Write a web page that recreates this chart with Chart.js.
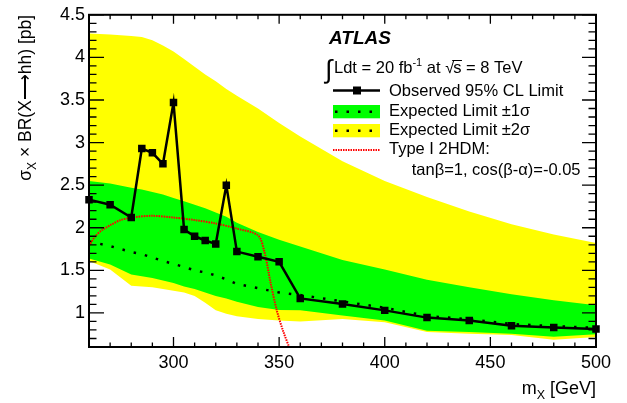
<!DOCTYPE html>
<html>
<head>
<meta charset="utf-8">
<script src="https://cdn.jsdelivr.net/npm/chart.js@4"></script>
<style>
  html, body { margin: 0; padding: 0; background: #fff; }
  #wrap { width: 627px; height: 403px; position: relative; }
</style>
</head>
<body>
<div id="wrap"><canvas id="c"></canvas></div>
<script>
// ------------------------------------------------------------
// Data read off the ATLAS X -> hh limit plot
// ------------------------------------------------------------

const masses    = [260, 270, 280, 285, 290, 295, 300, 305, 310, 315, 320, 325, 330, 340, 350, 360, 380, 400, 420, 440, 460, 480, 500];
const observed  = [2.33, 2.27, 2.12, 2.93, 2.88, 2.75, 3.47, 1.98, 1.90, 1.85, 1.81, 2.50, 1.72, 1.66, 1.60, 1.17, 1.105, 1.03, 0.945, 0.91, 0.85, 0.83, 0.81];
const expected  = [1.84, 1.785, 1.715, 1.69, 1.65, 1.61, 1.575, 1.54, 1.50, 1.475, 1.44, 1.395, 1.34, 1.29, 1.24, 1.21, 1.135, 1.06, 0.965, 0.925, 0.87, 0.845, 0.825];
const sigma1Up  = [2.55, 2.52, 2.47, 2.45, 2.42, 2.39, 2.35, 2.31, 2.27, 2.23, 2.18, 2.13, 2.06, 1.95, 1.86, 1.78, 1.62, 1.51, 1.39, 1.30, 1.22, 1.15, 1.09];
const sigma1Dn  = [1.64, 1.57, 1.45, 1.43, 1.41, 1.38, 1.35, 1.31, 1.28, 1.24, 1.20, 1.17, 1.13, 1.07, 1.035, 1.03, 0.97, 0.91, 0.79, 0.775, 0.755, 0.72, 0.75];
const sigma2Up  = [4.28, 4.27, 4.25, 4.24, 4.20, 4.14, 4.07, 3.98, 3.89, 3.80, 3.72, 3.63, 3.55, 3.40, 3.23, 3.07, 2.78, 2.55, 2.36, 2.19, 2.04, 1.92, 1.82];
const sigma2Dn  = [1.61, 1.51, 1.32, 1.31, 1.30, 1.28, 1.26, 1.24, 1.20, 1.12, 1.03, 0.99, 0.96, 0.93, 0.91, 0.90, 0.93, 0.89, 0.775, 0.756, 0.74, 0.686, 0.717];

// Type I 2HDM, tanb=1, cos(b-a)=-0.05
const modelMass = [260, 263, 266, 270, 275, 280, 290, 300, 310, 320, 330, 340, 343, 346, 349, 352, 356];
const modelXsec = [1.79, 1.90, 1.97, 2.03, 2.09, 2.12, 2.14, 2.12, 2.09, 2.05, 1.99, 1.91, 1.72, 1.35, 1.02, 0.78, 0.52];

const xLabelValues = [300, 350, 400, 450, 500];
const yLabelValues = [1, 1.5, 2, 2.5, 3, 3.5, 4, 4.5];

const FONT = '"Liberation Sans", Arial, Helvetica, sans-serif';
const GREEN = "#00ff00";
const YELLOW = "#ffff00";
const RED = "#ff0000";

function pts(xs, ys) {
  return xs.map((x, i) => ({ x: x, y: ys[i] }));
}

function isLabelled(list, v) {
  return list.some(l => Math.abs(l - v) < 1e-6);
}

// ------------------------------------------------------------
// Text helpers (sub/superscripts)
// ------------------------------------------------------------

function runsWidth(ctx, runs) {
  let w = 0;
  for (const r of runs) {
    ctx.font = r.font;
    w += ctx.measureText(r.t).width + (r.gap || 0);
  }
  return w;
}

function drawRuns(ctx, x, y, runs) {
  let cx = x;
  for (const r of runs) {
    ctx.font = r.font;
    ctx.fillText(r.t, cx, y + (r.dy || 0));
    cx += ctx.measureText(r.t).width + (r.gap || 0);
  }
  return cx;
}

// ------------------------------------------------------------
// Frame, inward ticks, titles and legend (ROOT / ATLAS style)
// ------------------------------------------------------------

const atlasDecor = {
  id: "atlasDecor",
  afterDraw(chart) {
    const ctx = chart.ctx;
    const { left, right, top, bottom } = chart.chartArea;
    const xs = chart.scales.x, ys = chart.scales.y;

    ctx.save();
    ctx.strokeStyle = "#000";
    ctx.fillStyle = "#000";

    // ticks
    ctx.lineWidth = 1.3;
    ctx.beginPath();
    xs.ticks.forEach(t => {
      const px = xs.getPixelForValue(t.value);
      const major = t.value % 50 === 0;
      ctx.moveTo(px, bottom);
      ctx.lineTo(px, bottom - (major ? 10 : 4.5));
      ctx.moveTo(px, top);
      ctx.lineTo(px, top + (major ? 9 : 4.5));
    });
    ys.ticks.forEach(t => {
      const py = ys.getPixelForValue(t.value);
      const major = Math.abs(t.value - 0.5 * Math.round(t.value * 2)) < 1e-6;
      ctx.moveTo(left, py);
      ctx.lineTo(left + (major ? 15 : 7.5), py);
      ctx.moveTo(right, py);
      ctx.lineTo(right - (major ? 14 : 7.5), py);
    });
    ctx.stroke();

    // frame
    ctx.lineWidth = 2;
    ctx.strokeRect(left, top, right - left, bottom - top);

    // x title: m_X [GeV], right aligned to axis end
    const xr = [
      { t: "m", font: "18px " + FONT },
      { t: "X", font: "12.5px " + FONT, dy: 5 },
      { t: " [GeV]", font: "18px " + FONT },
    ];
    ctx.textBaseline = "alphabetic";
    ctx.textAlign = "left";
    drawRuns(ctx, right - runsWidth(ctx, xr), 394, xr);

    // y title, rotated, right aligned to axis top
    const yr = [
      { t: "\u03c3", font: "17.5px " + FONT },
      { t: "X", font: "12px " + FONT, dy: 5 },
      { t: " \u00d7 BR(X", font: "17.5px " + FONT },
      { t: "\u27f6", font: "17.5px " + FONT },
      { t: "hh) [pb]", font: "17.5px " + FONT },
    ];
    ctx.save();
    ctx.translate(31, top);
    ctx.rotate(-Math.PI / 2);
    drawRuns(ctx, -runsWidth(ctx, yr), 0, yr);
    ctx.restore();

    // ATLAS label
    ctx.font = "italic bold 19px " + FONT;
    ctx.fillText("ATLAS", 329, 43.5);

    // luminosity line
    ctx.font = "26px " + FONT;
    ctx.fillText("\u222b", 325, 78);
    const lx = drawRuns(ctx, 334, 72.7, [
      { t: "Ldt = 20 fb", font: "16.5px " + FONT },
      { t: "-1", font: "11px " + FONT, dy: -7 },
      { t: " at ", font: "16.5px " + FONT },
    ]);
    ctx.font = "16.5px " + FONT;
    ctx.fillText("\u221a", lx, 72.7);
    const sx = lx + ctx.measureText("\u221a").width - 1;
    ctx.fillText("s", sx, 72.7);
    const sw = ctx.measureText("s").width;
    ctx.lineWidth = 1;
    ctx.beginPath();
    ctx.moveTo(sx - 1, 60.5);
    ctx.lineTo(sx + sw + 0.5, 60.5);
    ctx.stroke();
    ctx.fillText(" = 8 TeV", sx + sw, 72.7);

    // legend entries
    const symL = 333, symR = 380, textX = 389;
    const rows = [96, 115.7, 135, 154.3];

    // observed
    ctx.lineWidth = 2.5;
    ctx.beginPath();
    ctx.moveTo(symL, rows[0] - 5.5);
    ctx.lineTo(symR, rows[0] - 5.5);
    ctx.stroke();
    ctx.fillRect(353, rows[0] - 9.5, 8, 8);

    // bands
    ctx.fillStyle = GREEN;
    ctx.fillRect(symL, 105, symR - symL, 13.3);
    ctx.fillStyle = YELLOW;
    ctx.fillRect(symL, 124, symR - symL, 13.3);
    ctx.strokeStyle = "#000";
    ctx.lineWidth = 2.5;
    ctx.setLineDash([2.5, 9]);
    ctx.beginPath();
    ctx.moveTo(symL + 2, 111.7);
    ctx.lineTo(symR, 111.7);
    ctx.moveTo(symL + 2, 130.7);
    ctx.lineTo(symR, 130.7);
    ctx.stroke();

    // model
    ctx.strokeStyle = RED;
    ctx.lineWidth = 2;
    ctx.setLineDash([1.5, 1]);
    ctx.beginPath();
    ctx.moveTo(symL, 150);
    ctx.lineTo(symR, 150);
    ctx.stroke();
    ctx.setLineDash([]);

    ctx.fillStyle = "#000";
    ctx.font = "16.5px " + FONT;
    ctx.fillText("Observed 95% CL Limit", textX, rows[0]);
    ctx.fillText("Expected Limit \u00b11\u03c3", textX, rows[1]);
    ctx.fillText("Expected Limit \u00b12\u03c3", textX, rows[2]);
    ctx.fillText("Type I 2HDM:", textX, rows[3]);
    ctx.fillText("tan\u03b2=1, cos(\u03b2-\u03b1)=-0.05", 411.7, 174.5);

    ctx.restore();
  }
};

// ------------------------------------------------------------
// Chart
// ------------------------------------------------------------

new Chart(document.getElementById("c").getContext("2d"), {
  type: "line",
  data: {
    datasets: [
      {
        label: "Observed 95% CL Limit",
        data: pts(masses, observed),
        borderColor: "#000",
        backgroundColor: "#000",
        borderWidth: 2.5,
        pointStyle: "rect",
        pointRadius: 5.3,
        pointBorderWidth: 0,
        pointBackgroundColor: "#000",
        fill: false,
        clip: 8,
        order: 0,
      },
      {
        label: "Type I 2HDM",
        data: pts(modelMass, modelXsec),
        borderColor: RED,
        borderWidth: 2,
        borderDash: [1.5, 1],
        pointRadius: 0,
        tension: 0.3,
        fill: false,
        order: 1,
      },
      {
        label: "Expected",
        data: pts(masses, expected),
        borderColor: "#000",
        borderWidth: 2.5,
        borderDash: [2.5, 9],
        pointRadius: 0,
        fill: false,
        order: 2,
      },
      {
        label: "1 sigma up",
        data: pts(masses, sigma1Up),
        borderWidth: 0,
        borderColor: "rgba(0,0,0,0)",
        backgroundColor: GREEN,
        pointRadius: 0,
        fill: 4,
        order: 3,
      },
      {
        label: "1 sigma down",
        data: pts(masses, sigma1Dn),
        borderWidth: 0,
        borderColor: "rgba(0,0,0,0)",
        pointRadius: 0,
        fill: false,
        order: 4,
      },
      {
        label: "2 sigma up",
        data: pts(masses, sigma2Up),
        borderWidth: 0,
        borderColor: "rgba(0,0,0,0)",
        backgroundColor: YELLOW,
        pointRadius: 0,
        fill: 6,
        order: 5,
      },
      {
        label: "2 sigma down",
        data: pts(masses, sigma2Dn),
        borderWidth: 0,
        borderColor: "rgba(0,0,0,0)",
        pointRadius: 0,
        fill: false,
        order: 6,
      },
    ],
  },
  options: {
    responsive: true,
    maintainAspectRatio: false,
    animation: false,
    layout: { padding: { top: 11, right: 31, left: 0, bottom: 0 } },
    plugins: {
      legend: { display: false },
      tooltip: { enabled: false },
    },
    scales: {
      x: {
        type: "linear",
        min: 260,
        max: 500,
        grid: { display: false, drawTicks: false },
        border: { display: false },
        ticks: {
          stepSize: 10,
          autoSkip: false,
          maxRotation: 0,
          padding: 5,
          color: "#000",
          font: { family: FONT, size: 18 },
          callback: (v) => (isLabelled(xLabelValues, v) ? String(v) : ""),
        },
        afterFit: (s) => { s.height = 56; },
      },
      y: {
        type: "linear",
        min: 0.6,
        max: 4.5,
        grid: { display: false, drawTicks: false },
        border: { display: false },
        ticks: {
          stepSize: 0.1,
          autoSkip: false,
          padding: 4,
          color: "#000",
          font: { family: FONT, size: 18 },
          callback: (v) => (isLabelled(yLabelValues, v) ? String(Number(v.toFixed(1))) : ""),
        },
        afterFit: (s) => { s.width = 89; },
      },
    },
  },
  plugins: [atlasDecor],
});
</script>
</body>
</html>
